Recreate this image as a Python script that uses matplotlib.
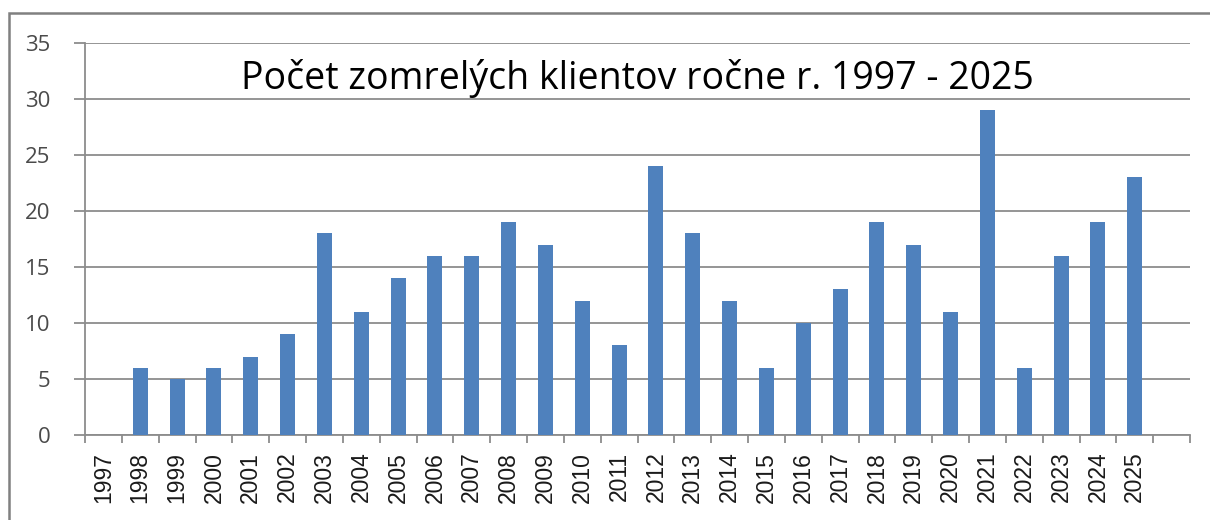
import matplotlib
matplotlib.use("Agg")
import matplotlib.pyplot as plt
from matplotlib.patches import Rectangle

years = [str(y) for y in range(1997, 2026)]
deaths = [0, 6, 5, 6, 7, 9, 18, 11, 14, 16, 16, 19, 17, 12, 8, 24, 18, 12, 6, 10, 13, 19, 17, 11, 29, 6, 16, 19, 23]
title = "Počet zomrelých klientov ročne r. 1997 - 2025"

fig = plt.figure(figsize=(12.1, 5.2), dpi=100)
ax = fig.add_axes([85/1210, 85/520, 1105/1210, 392/520])

x = list(range(len(years)))
ax.bar(x, deaths, width=0.41, color="#4F81BD", zorder=3)

ax.set_xlim(-0.5, len(years) + 0.5)
ax.set_ylim(0, 35)
ax.set_yticks(range(0, 36, 5))
ax.yaxis.grid(True, color="#8C8C8C", lw=1.3, zorder=0)
ax.set_xticks(x)
ax.set_xticklabels(years, rotation=90, fontsize=16.5, family="Liberation Sans", color="#1A1A1A")
ax.set_xticks([i - 0.5 for i in range(len(years) + 2)], minor=True)
ax.tick_params(axis="x", which="major", length=0, pad=12)
ax.tick_params(axis="x", which="minor", length=6, width=1.3, color="#8C8C8C", direction="out")
ax.tick_params(axis="y", length=8, width=1.3, color="#8C8C8C", labelsize=16, labelcolor="#4A4A4A", pad=17)
for lab in ax.get_yticklabels():
    lab.set_family("Open Sans")

for s in ["top", "right"]:
    ax.spines[s].set_visible(False)
for s in ["left", "bottom"]:
    ax.spines[s].set_color("#8C8C8C")
    ax.spines[s].set_linewidth(1.3)

ax.text(0.50, 0.91, title, transform=ax.transAxes, ha="center", va="center",
        fontsize=27, family="Open Sans", color="#000000", zorder=5)

fig.patches.append(Rectangle((9/1210, -0.1), 1.2, (520-13)/520 + 0.1, transform=fig.transFigure,
                             fill=False, edgecolor="#808080", lw=1.8))

fig.savefig("out.png", dpi=100)
